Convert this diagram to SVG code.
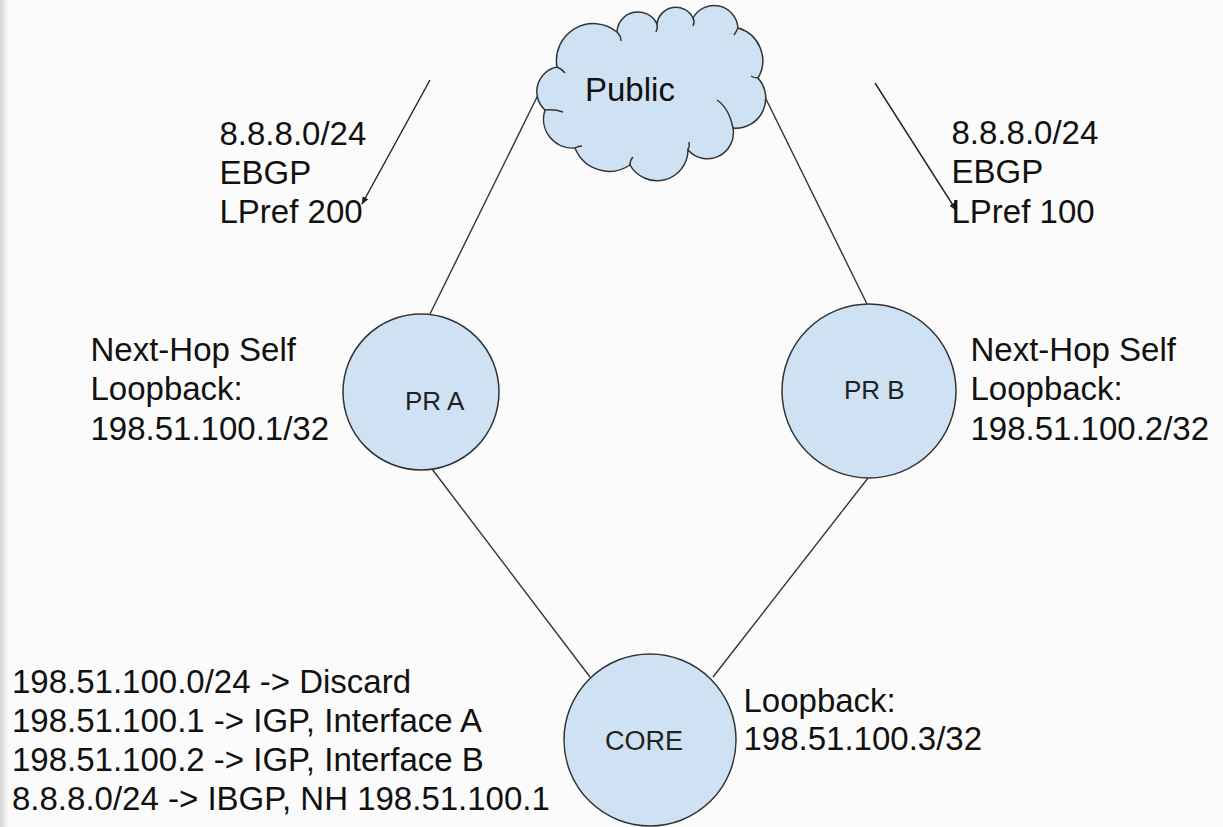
<svg xmlns="http://www.w3.org/2000/svg" width="1223" height="827" viewBox="0 0 1223 827">
<defs>
<linearGradient id="edge" x1="0" y1="0" x2="1" y2="0">
<stop offset="0" stop-color="#d4d4d4"/>
<stop offset="1" stop-color="#fbfbfb"/>
</linearGradient>
<marker id="arr" viewBox="0 0 10 10" refX="9" refY="5" markerWidth="8" markerHeight="8" markerUnits="userSpaceOnUse" orient="auto">
<path d="M0,1 L10,5 L0,9 Z" fill="#222"/>
</marker>
<style>
.t{font-family:"Liberation Sans",Arial,sans-serif;font-size:33px;fill:#111}
.n{font-family:"Liberation Sans",Arial,sans-serif;font-size:26px;fill:#222}
.shape{fill:#cfe2f3;stroke:#333;stroke-width:1.5}
.crease{fill:none;stroke:#333;stroke-width:1.5}
.link{stroke:#333;stroke-width:1.4;fill:none}
.arrow{stroke:#222;stroke-width:1.4;fill:none;marker-end:url(#arr)}
</style>
</defs>
<rect width="1223" height="827" fill="#fbfbfb"/>
<rect width="9" height="827" fill="url(#edge)"/>

<g id="connectors">
<line class="link" x1="538" y1="95" x2="430" y2="314"/>
<line class="link" x1="765" y1="97" x2="867" y2="304"/>
<line class="link" x1="432" y1="469" x2="590" y2="677"/>
<line class="link" x1="868" y1="478" x2="713" y2="677"/>
<line class="arrow" x1="430" y1="80" x2="362" y2="204"/>
<line class="arrow" x1="875" y1="83" x2="956" y2="210"/>
</g>

<g id="public">
<path class="shape" d="M557 67 A37 37 0 0 1 617 32 A21 21 0 0 1 657 24 A19 19 0 0 1 693 18 A24 24 0 0 1 738 28 A34 34 0 0 1 758 78 A30 30 0 0 1 733 128 A26 26 0 0 1 688 150 A31 31 0 0 1 630 165 A37 37 0 0 1 575 148 A29 29 0 0 1 545 110 A25 25 0 0 1 557 67 Z"/>
<path class="crease" d="M557 67 q5 2 8 6 M617 32 q4 4 4 9 M657 24 q1 4 -1 8 M693 18 q2 4 0 8 M738 28 q-2 4 -4 7 M758 78 q-4 0 -7 -2 M717 100 q12 8 16 28 M688 150 q2 -4 1 -8 M630 165 q0 -5 3 -8 M575 148 q3 -2 7 -2 M545 110 q10 -1 18 2"/>
<text class="t" x="585" y="101">Public</text>
</g>

<g id="pra">
<circle class="shape" cx="421" cy="392" r="78"/>
<text class="n" x="405" y="410">PR A</text>
</g>

<g id="prb">
<circle class="shape" cx="869" cy="391" r="87"/>
<text class="n" x="844" y="399">PR B</text>
</g>

<g id="core">
<circle class="shape" cx="650" cy="740" r="86"/>
<text class="n" x="605" y="750" style="font-size:27px">CORE</text>
</g>

<g id="label-ebgp-a">
<text class="t" x="219.5" y="145">8.8.8.0/24</text>
<text class="t" x="219.5" y="184">EBGP</text>
<text class="t" x="219.5" y="223">LPref 200</text>
</g>

<g id="label-ebgp-b">
<text class="t" x="951.5" y="144">8.8.8.0/24</text>
<text class="t" x="951.5" y="183">EBGP</text>
<text class="t" x="951.5" y="223">LPref 100</text>
</g>

<g id="label-pra">
<text class="t" x="90.5" y="361">Next-Hop Self</text>
<text class="t" x="90.5" y="400">Loopback:</text>
<text class="t" x="90.5" y="440">198.51.100.1/32</text>
</g>

<g id="label-prb">
<text class="t" x="970.5" y="361">Next-Hop Self</text>
<text class="t" x="970.5" y="400">Loopback:</text>
<text class="t" x="970.5" y="440">198.51.100.2/32</text>
</g>

<g id="label-core">
<text class="t" x="743.5" y="712">Loopback:</text>
<text class="t" x="743.5" y="750">198.51.100.3/32</text>
</g>

<g id="label-routes">
<text class="t" x="12" y="693">198.51.100.0/24 -&gt; Discard</text>
<text class="t" x="12" y="732">198.51.100.1 -&gt; IGP, Interface A</text>
<text class="t" x="12" y="771">198.51.100.2 -&gt; IGP, Interface B</text>
<text class="t" x="12" y="810">8.8.8.0/24 -&gt; IBGP, NH 198.51.100.1</text>
</g>
</svg>
